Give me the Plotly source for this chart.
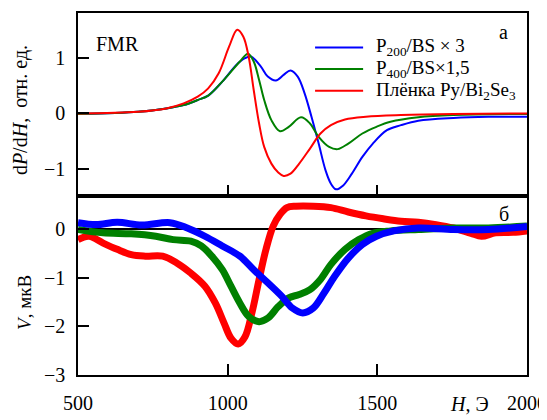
import plotly.graph_objects as go
from plotly.subplots import make_subplots

FONT = "Liberation Serif"

# ---- Upper panel (FMR, dP/dH) ----
fmr_red_H = [500, 701, 795, 853, 900, 935, 970, 1005, 1032, 1052, 1070, 1087, 1105, 1122,
             1146, 1169, 1187, 1210, 1239, 1275, 1310, 1345, 1392, 1462, 1579, 1754, 2000]
fmr_red_y = [0.0, 0.03, 0.09, 0.18, 0.30, 0.45, 0.72, 1.20, 1.50, 1.38, 1.02, 0.42, -0.18, -0.60,
             -0.90, -1.06, -1.12, -1.08, -0.90, -0.63, -0.36, -0.21, -0.11, -0.06, -0.03, -0.01, 0.0]

fmr_blue_H = [500, 701, 795, 853, 900, 935, 982, 1029, 1058, 1078, 1111, 1134, 1161, 1187, 1210,
              1234, 1257, 1280, 1304, 1327, 1345, 1362, 1386, 1415, 1450, 1485, 1532, 1579,
              1637, 1754, 1871, 2000]
fmr_blue_y = [-0.01, 0.03, 0.09, 0.15, 0.24, 0.32, 0.57, 0.87, 0.99, 1.02, 0.84, 0.66, 0.59, 0.69, 0.77,
              0.66, 0.36, -0.06, -0.54, -1.02, -1.26, -1.36, -1.29, -1.08, -0.78, -0.54, -0.30, -0.21,
              -0.13, -0.08, -0.06, -0.06]

fmr_green_H = [500, 701, 795, 853, 900, 935, 982, 1041, 1068, 1087, 1105, 1122, 1146, 1175, 1204,
               1245, 1275, 1304, 1339, 1368, 1403, 1450, 1497, 1544, 1637, 1754, 2000]
fmr_green_y = [-0.01, 0.03, 0.09, 0.15, 0.24, 0.32, 0.57, 0.93, 1.07, 0.93, 0.60, 0.24, -0.12, -0.32, -0.24,
               -0.07, -0.18, -0.42, -0.60, -0.64, -0.54, -0.36, -0.24, -0.15, -0.07, -0.03, -0.01]

# ---- Lower panel (V, uV) ----
v_red_H = [500, 537, 584, 631, 678, 725, 783, 830, 877, 924, 959, 988, 1011, 1035, 1058, 1081,
           1105, 1128, 1152, 1175, 1198, 1228, 1286, 1345, 1403, 1462, 1520, 1579, 1637, 1696,
           1754, 1813, 1848, 1895, 1953, 2000]
v_red_y = [-0.21, -0.14, -0.28, -0.41, -0.52, -0.55, -0.55, -0.69, -0.90, -1.17, -1.52, -1.93, -2.24, -2.36,
           -2.21, -1.72, -1.03, -0.41, 0.07, 0.31, 0.45, 0.48, 0.48, 0.45, 0.36, 0.28, 0.22, 0.17, 0.15, 0.10,
           0.03, -0.08, -0.14, -0.07, -0.06, -0.03]

v_green_H = [500, 584, 678, 760, 818, 877, 912, 947, 982, 1011, 1041, 1070, 1105, 1134, 1169, 1204,
             1239, 1275, 1310, 1345, 1392, 1438, 1485, 1544, 1637, 1754, 1871, 2000]
v_green_y = [0.0, -0.07, -0.09, -0.14, -0.21, -0.24, -0.34, -0.55, -0.83, -1.17, -1.52, -1.79, -1.90, -1.83,
             -1.59, -1.41, -1.34, -1.24, -1.03, -0.72, -0.41, -0.21, -0.08, -0.03, 0.0, 0.03, 0.03, 0.07]

v_blue_H = [500, 561, 631, 713, 807, 865, 924, 982, 1041, 1087, 1134, 1181, 1216, 1251, 1286, 1322,
            1357, 1403, 1450, 1497, 1555, 1637, 1754, 1871, 2000]
v_blue_y = [0.14, 0.10, 0.15, 0.09, 0.14, 0.03, -0.14, -0.34, -0.55, -0.83, -1.10, -1.38, -1.62, -1.72,
            -1.62, -1.31, -0.97, -0.59, -0.31, -0.14, -0.03, 0.03, 0.0, 0.0, 0.06]

names = ["P<sub>200</sub>/BS × 3", "P<sub>400</sub>/BS×1,5", "Плёнка Py/Bi<sub>2</sub>Se<sub>3</sub>"]
BLUE, GREEN, RED = "#0000ff", "#008000", "#ff0000"
colors = [BLUE, GREEN, RED]

x_ticks = [500, 1000, 1500, 2000]
x_labels = ["500", "1000", "1500", "2000"]

fig = make_subplots(rows=2, cols=1, shared_xaxes=True, vertical_spacing=0,
                    row_heights=[0.5055, 0.4945])

fig.add_trace(go.Scatter(x=fmr_blue_H, y=fmr_blue_y, mode="lines", name=names[0],
                         line=dict(color=BLUE, width=2, shape="spline")), row=1, col=1)
fig.add_trace(go.Scatter(x=fmr_green_H, y=fmr_green_y, mode="lines", name=names[1],
                         line=dict(color=GREEN, width=2, shape="spline")), row=1, col=1)
fig.add_trace(go.Scatter(x=fmr_red_H, y=fmr_red_y, mode="lines", name=names[2],
                         line=dict(color=RED, width=2, shape="spline")), row=1, col=1)

fig.add_trace(go.Scatter(x=v_red_H, y=v_red_y, mode="lines", name=names[2],
                         line=dict(color=RED, width=7, shape="spline")), row=2, col=1)
fig.add_trace(go.Scatter(x=v_green_H, y=v_green_y, mode="lines", name=names[1],
                         line=dict(color=GREEN, width=7, shape="spline")), row=2, col=1)
fig.add_trace(go.Scatter(x=v_blue_H, y=v_blue_y, mode="lines", name=names[0],
                         line=dict(color=BLUE, width=7, shape="spline")), row=2, col=1)

axis_common = dict(showline=True, linecolor="black", linewidth=1.5, mirror=True,
                   ticks="inside", tickcolor="black", tickwidth=1.5, ticklen=11,
                   showgrid=False, zeroline=False, automargin=False,
                   tickfont=dict(family=FONT, size=20, color="black"))

fig.update_xaxes(range=[500, 2000], tickvals=x_ticks, ticktext=x_labels, **axis_common)
fig.update_xaxes(showticklabels=False, row=1, col=1)
fig.update_xaxes(ticklabelstandoff=9, row=2, col=1)

fig.update_yaxes(range=[-1.48, 1.80], tickvals=[-1, 0, 1], row=1, col=1, **axis_common)
fig.update_yaxes(range=[-3, 0.69], tickvals=[-3, -2, -1, 0], row=2, col=1, **axis_common)
fig.update_yaxes(zeroline=True, zerolinecolor="black", zerolinewidth=1.5, row=2, col=1)
fig.update_yaxes(ticklabelstandoff=7)

txt = dict(family=FONT, size=20, color="black")
# axis titles placed as rotated annotations
fig.add_annotation(text="d<i>P</i>/d<i>H</i>,  отн. ед.", xref="paper", yref="paper",
                   x=-0.129, y=0.732, xanchor="center", yanchor="middle", textangle=-90,
                   showarrow=False, font=txt)
fig.add_annotation(text="<i>V</i>, мкВ", xref="paper", yref="paper",
                   x=-0.118, y=0.199, xanchor="center", yanchor="middle", textangle=-90,
                   showarrow=False, font=dict(family=FONT, size=19, color="black"))

fig.add_annotation(text="FMR", xref="paper", yref="paper", x=0.035, y=0.915,
                   xanchor="left", yanchor="middle", showarrow=False, font=txt)
fig.add_annotation(text="а", xref="paper", yref="paper", x=0.947, y=0.948,
                   xanchor="center", yanchor="middle", showarrow=False, font=txt)
fig.add_annotation(text="б", xref="paper", yref="paper", x=0.949, y=0.446,
                   xanchor="center", yanchor="middle", showarrow=False, font=txt)
fig.add_annotation(text="<i>H</i>, Э", xref="paper", yref="paper", x=0.871, y=-0.117,
                   xanchor="center", yanchor="bottom", showarrow=False, font=txt)

# manual legend (line samples + labels) inside the upper panel
leg_y = [0.905, 0.845, 0.785]
for i in range(3):
    fig.add_shape(type="line", xref="paper", yref="paper", x0=0.528, x1=0.635,
                  y0=leg_y[i], y1=leg_y[i], line=dict(color=colors[i], width=2))
    fig.add_annotation(text=names[i], xref="paper", yref="paper", x=0.659, y=leg_y[i],
                       xanchor="left", yanchor="middle", showarrow=False,
                       font=dict(family=FONT, size=19, color="black"))

# the page body adds an 8 px margin, so the figure is 8 px smaller than the window
fig.update_layout(
    width=539, height=412,
    margin=dict(l=70, r=20, t=5, b=45),
    paper_bgcolor="white", plot_bgcolor="white",
    showlegend=False,
)

fig.write_html("out.html")
